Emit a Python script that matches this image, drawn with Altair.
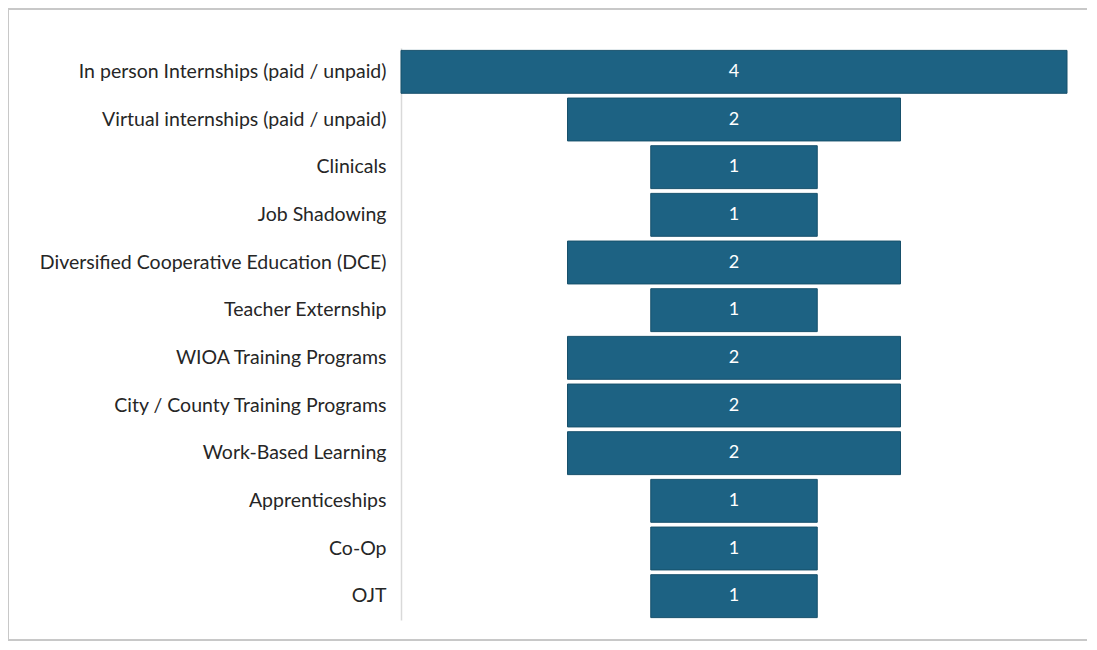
import altair as alt
import pandas as pd

categories = [
    "In person Internships (paid / unpaid)",
    "Virtual internships (paid / unpaid)",
    "Clinicals",
    "Job Shadowing",
    "Diversified Cooperative Education (DCE)",
    "Teacher Externship",
    "WIOA Training Programs",
    "City / County Training Programs",
    "Work-Based Learning",
    "Apprenticeships",
    "Co-Op",
    "OJT",
]
values = [4, 2, 1, 1, 2, 1, 2, 2, 2, 1, 1, 1]

df = pd.DataFrame({"category": categories, "value": values})

base = alt.Chart(df).transform_calculate(
    lo="-datum.value / 2", hi="datum.value / 2", mid="0"
)

y_enc = alt.Y(
    "category:N",
    sort=categories,
    title=None,
    scale=alt.Scale(paddingInner=0.1, paddingOuter=0.05),
    axis=alt.Axis(
        ticks=False,
        domain=True,
        domainColor="#d9d9d9",
        domainWidth=1.5,
        labelFontSize=19.5,
        labelFont="Lato",
        labelColor="#262626",
        labelPadding=15,
        labelLimit=400,
        grid=False,
    ),
)

x_scale = alt.Scale(domain=[-2, 2], nice=False, zero=False)

bars = base.mark_bar(color="#1d6283", stroke="#17506b", strokeWidth=1).encode(
    y=y_enc,
    x=alt.X("lo:Q", scale=x_scale, axis=None),
    x2="hi:Q",
)

labels = base.mark_text(color="white", fontSize=18, font="Lato").encode(
    y=alt.Y("category:N", sort=categories),
    x=alt.X("mid:Q", scale=x_scale, axis=None),
    text="value:Q",
)

frame = alt.Chart(pd.DataFrame({"a": [0]})).mark_rect(
    fill=None, stroke="#c8c8c8", strokeWidth=2
).encode(
    x=alt.value(-393), x2=alt.value(800), y=alt.value(-39), y2=alt.value(592)
)

chart = (
    alt.layer(frame, bars, labels)
    .properties(
        width=666,
        height=572,
        autosize=alt.AutoSizeParams(type="none"),
        padding={"left": 393, "top": 40, "right": 20, "bottom": 22},
    )
    .configure_view(stroke=None)
)

chart.save("out.html", embed_options={"renderer": "svg", "actions": False})
